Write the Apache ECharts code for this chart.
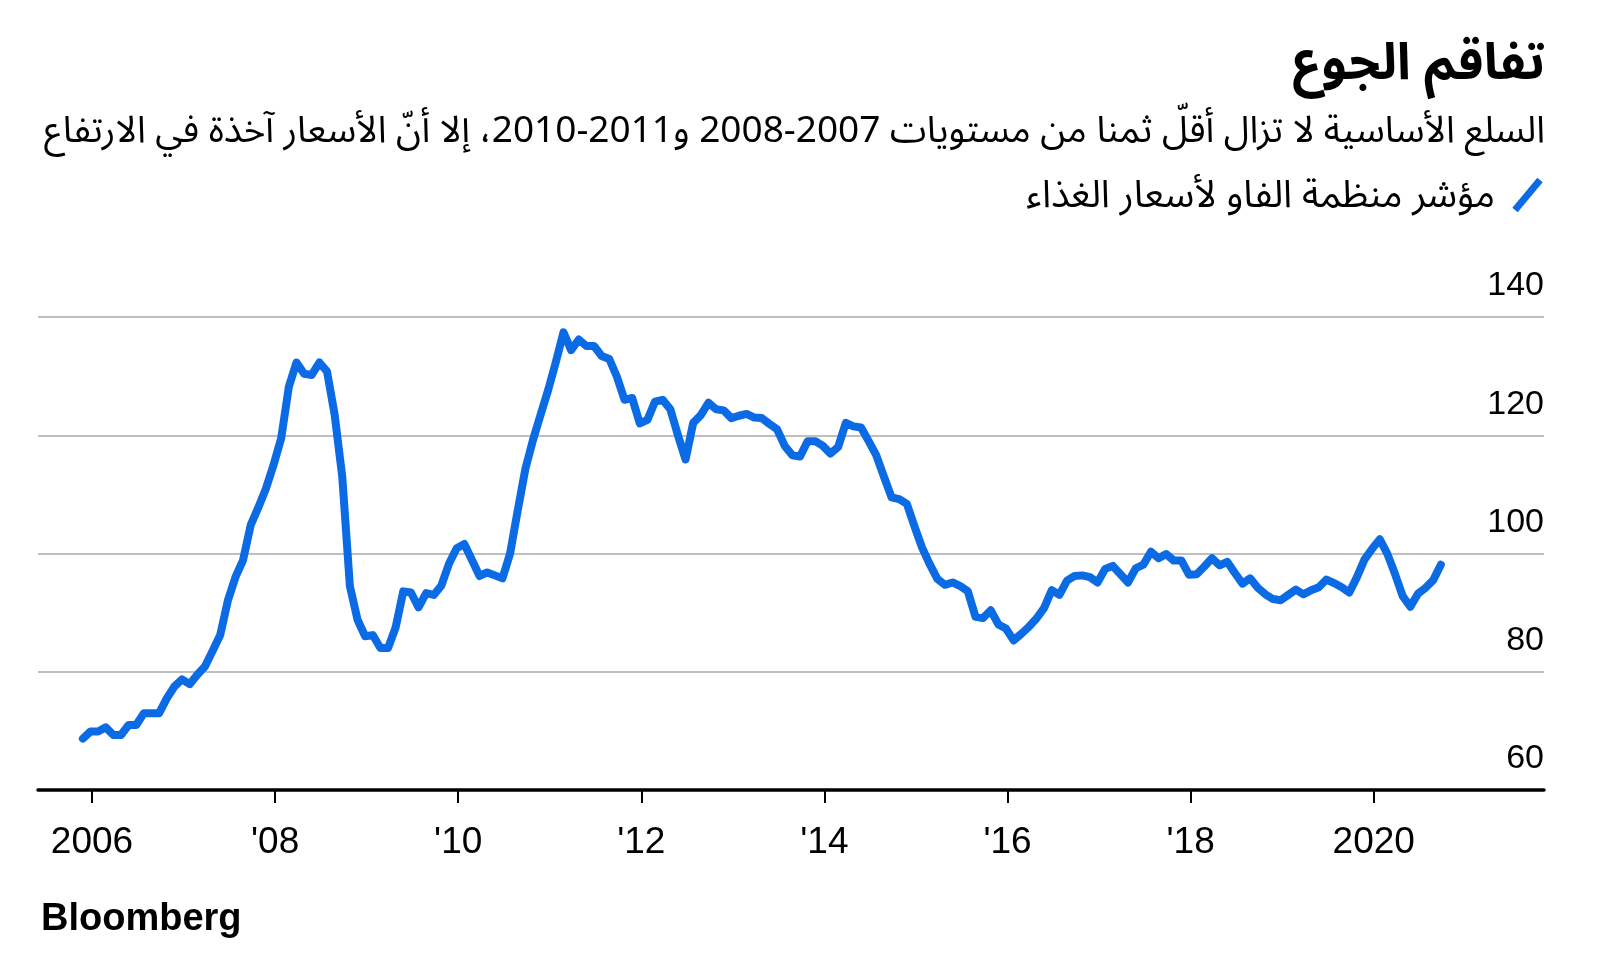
<!DOCTYPE html>
<html>
<head>
<meta charset="utf-8">
<script src="https://cdn.jsdelivr.net/npm/echarts@6/dist/echarts.min.js"></script>
<style>
  html, body { margin: 0; padding: 0; background: #fff; }
  #container { width: 1600px; height: 977px; }
</style>
</head>
<body>
<div id="container"></div>
<script>
var dom = document.getElementById('container');
var myChart = echarts.init(dom, null, { renderer: 'canvas' });

// FAO food price index, monthly, first value is Nov 2005
const startYear = 2005;
const startMonth = 11;
const foodPriceIndex = [
  68.7, 69.9, 69.9, 70.6, 69.3, 69.3, 71.0, 71.0, 73.0, 73.0, 73.0, 75.5,
  77.5, 78.7, 77.9, 79.5, 80.9, 83.5, 86.2, 92.0, 96.0, 98.9, 104.8, 107.8,
  111.0, 115.0, 119.5, 128.2, 132.3, 130.4, 130.2, 132.3, 130.8, 123.5, 113.0, 94.5,
  88.8, 86.0, 86.2, 84.0, 84.0, 87.5, 93.6, 93.4, 90.9, 93.3, 93.0, 94.6,
  98.3, 100.9, 101.6, 98.9, 96.2, 96.8, 96.3, 95.8, 100.0, 107.3, 114.3, 119.2,
  123.5, 127.7, 132.4, 137.4, 134.4, 136.2, 135.1, 135.1, 133.4, 132.9, 129.9, 126.0,
  126.3, 122.0, 122.6, 125.7, 126.0, 124.4, 120.0, 115.9, 122.1, 123.4, 125.5, 124.4,
  124.2, 122.9, 123.3, 123.6, 123.0, 122.9, 121.9, 121.0, 118.2, 116.6, 116.4, 119.0,
  119.0, 118.2, 116.9, 118.0, 122.1, 121.5, 121.3, 119.0, 116.6, 113.0, 109.5, 109.2,
  108.4, 104.6, 101.0, 98.2, 95.7, 94.7, 95.1, 94.5, 93.6, 89.3, 89.1, 90.4,
  88.0, 87.3, 85.3, 86.4, 87.6, 89.0, 90.8, 93.8, 93.0, 95.4, 96.2, 96.3,
  96.0, 95.1, 97.4, 97.9, 96.5, 95.1, 97.5, 98.1, 100.3, 99.2, 99.9, 98.8,
  98.8, 96.4, 96.5, 97.8, 99.2, 98.0, 98.6, 96.7, 94.9, 95.8, 94.2, 93.1,
  92.3, 92.1, 93.0, 93.9, 93.1, 93.8, 94.3, 95.6, 95.0, 94.3, 93.4, 96.0,
  99.0, 100.8, 102.4, 99.9, 96.5, 92.8, 91.0, 93.2, 94.2, 95.5, 98.1
];
const tickYears = [2006, 2008, 2010, 2012, 2014, 2016, 2018, 2020];
const tickLabels = ['2006', "'08", "'10", "'12", "'14", "'16", "'18", '2020'];

const titleText = 'تفاقم الجوع';
const subtitleText = 'السلع الأساسية لا تزال أقلّ ثمنا من مستويات 2007-2008 و2011-2010، إلا أنّ الأسعار آخذة في الارتفاع';
const legendText = 'مؤشر منظمة الفاو لأسعار الغذاء';

const blue = '#0a6be5';
const arabicFont = '"Noto Sans Arabic", "DejaVu Sans", sans-serif';
const latinFont = '"Liberation Sans", Arial, sans-serif';

// right-to-left embedding so the canvas lays Arabic out properly
function rtl(s) {
  return '\u202B' + s + '\u202C';
}

let seriesData = foodPriceIndex.map((v, i) => {
  let t = startYear + (startMonth - 1 + i + 0.8) / 12;
  return [t, v];
});

var option = {
  animation: false,
  backgroundColor: '#fff',
  grid: {
    left: 38,
    right: 56,
    top: 317,
    bottom: 187
  },
  xAxis: {
    type: 'value',
    min: 2005.41,
    max: 2021.86,
    axisLine: { lineStyle: { color: '#000', width: 3.5 } },
    axisTick: {
      customValues: tickYears,
      length: 13,
      lineStyle: { color: '#000', width: 2 }
    },
    axisLabel: {
      customValues: tickYears,
      formatter: function (v) {
        return tickLabels[tickYears.indexOf(Math.round(v))];
      },
      color: '#000',
      fontSize: 37,
      fontFamily: latinFont,
      margin: 34
    },
    splitLine: { show: false }
  },
  yAxis: {
    type: 'value',
    position: 'right',
    min: 60,
    max: 140,
    interval: 20,
    axisLine: { show: false },
    axisTick: { show: false },
    splitLine: { lineStyle: { color: '#aaaaaa', width: 1.5 } },
    axisLabel: {
      inside: true,
      margin: 0,
      verticalAlign: 'bottom',
      lineHeight: 34,
      padding: [0, 0, 14, 0],
      color: '#000',
      fontSize: 34,
      fontFamily: latinFont
    }
  },
  series: [{
    type: 'line',
    data: seriesData,
    symbol: 'none',
    lineStyle: { color: blue, width: 8, cap: 'round', join: 'round' }
  }],
  graphic: [
    {
      type: 'text',
      style: {
        text: rtl(titleText),
        x: 1545, y: 71,
        textAlign: 'right', textVerticalAlign: 'middle',
        font: 'bold 51px ' + arabicFont,
        fill: '#000'
      }
    },
    {
      type: 'text',
      style: {
        text: rtl(subtitleText),
        x: 1545, y: 136,
        textAlign: 'right', textVerticalAlign: 'middle',
        font: '37px ' + arabicFont,
        fill: '#000'
      }
    },
    {
      type: 'line',
      shape: { x1: 1515, y1: 210, x2: 1540, y2: 180 },
      style: { stroke: blue, lineWidth: 7 }
    },
    {
      type: 'text',
      style: {
        text: rtl(legendText),
        x: 1495, y: 201,
        textAlign: 'right', textVerticalAlign: 'middle',
        font: '38px ' + arabicFont,
        fill: '#000'
      }
    },
    {
      type: 'text',
      style: {
        text: 'Bloomberg',
        x: 41, y: 920,
        textAlign: 'left', textVerticalAlign: 'middle',
        font: 'bold 38px ' + latinFont,
        fill: '#000'
      }
    }
  ]
};

myChart.setOption(option);
window.addEventListener('resize', myChart.resize);
</script>
</body>
</html>
